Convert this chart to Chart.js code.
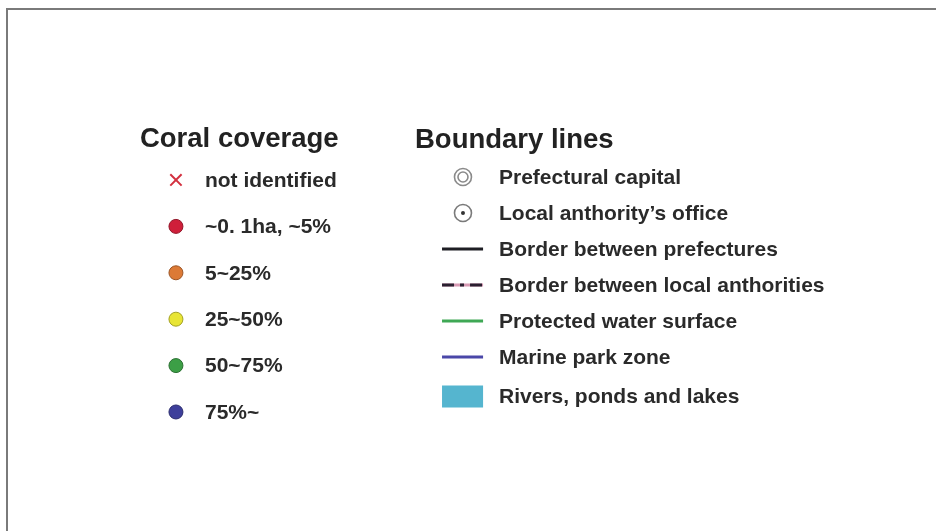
<!DOCTYPE html>
<html>
<head>
<meta charset="utf-8">
<script src="https://cdn.jsdelivr.net/npm/chart.js@4"></script>
<style>
  html, body { margin: 0; padding: 0; background: #fff; }
  canvas { display: block; }
</style>
</head>
<body>
<canvas id="legendChart" width="936" height="531"></canvas>
<script>
/* =========================
   LEGEND DATA
========================= */

const coralTitle = "Coral coverage";
const coralLabels = ["not identified", "~0. 1ha, ~5%", "5~25%", "25~50%", "50~75%", "75%~"];
const coralRows = [0, 1, 2, 3, 4, 5];
const coralColors = ["#d3303f", "#cf1f3a", "#dc7a36", "#e8e535", "#3c9f46", "#3e3f9b"];

const boundaryTitle = "Boundary lines";
const boundaryLabels = [
    "Prefectural capital",
    "Local anthority\u2019s office",
    "Border between prefectures",
    "Border between local anthorities",
    "Protected water surface",
    "Marine park zone",
    "Rivers, ponds and lakes"
];
const boundaryRows = [0, 1, 2, 3, 4, 5, 6.1];

// column index: 0 = coral coverage, 1 = boundary lines
const COL_CORAL = 0;
const COL_BOUNDARY = 1;


/* =========================
   HELPERS
========================= */

function darker(hex, f) {
    const n = parseInt(hex.slice(1), 16);
    const r = Math.round(((n >> 16) & 255) * f);
    const g = Math.round(((n >> 8) & 255) * f);
    const b = Math.round((n & 255) * f);
    return "rgb(" + r + "," + g + "," + b + ")";
}

function lineSet(row, color, width, dash) {
    return {
        type: "scatter",
        showLine: true,
        yAxisID: "yR",
        data: [{ x: COL_BOUNDARY - 0.073, y: row }, { x: COL_BOUNDARY + 0.07, y: row }],
        borderColor: color,
        borderWidth: width,
        borderDash: dash || [],
        pointRadius: 0,
        clip: false
    };
}


/* =========================
   DATASETS
========================= */

const datasets = [];

// not identified -> red cross
datasets.push({
    yAxisID: "yL",
    data: [{ x: COL_CORAL, y: coralRows[0] }],
    pointStyle: "crossRot",
    pointRadius: 8,
    borderColor: coralColors[0],
    borderWidth: 2,
    clip: false
});

// coverage classes -> filled dots
datasets.push({
    yAxisID: "yL",
    data: coralRows.slice(1).map(r => ({ x: COL_CORAL, y: r })),
    pointStyle: "circle",
    pointRadius: 7,
    backgroundColor: coralColors.slice(1),
    borderColor: coralColors.slice(1).map(c => darker(c, 0.7)),
    borderWidth: 1,
    clip: false
});

// prefectural capital -> double circle
[8.5, 5].forEach(rad => {
    datasets.push({
        yAxisID: "yR",
        data: [{ x: COL_BOUNDARY, y: boundaryRows[0] }],
        pointStyle: "circle",
        pointRadius: rad,
        backgroundColor: "rgba(0,0,0,0)",
        borderColor: "#8a8a8a",
        borderWidth: 1.6,
        clip: false
    });
});

// local authority office -> circle with dot
datasets.push({
    yAxisID: "yR",
    data: [{ x: COL_BOUNDARY, y: boundaryRows[1] }],
    pointStyle: "circle",
    pointRadius: 2,
    backgroundColor: "#333",
    borderColor: "#333",
    borderWidth: 0,
    clip: false
});
datasets.push({
    yAxisID: "yR",
    data: [{ x: COL_BOUNDARY, y: boundaryRows[1] }],
    pointStyle: "circle",
    pointRadius: 8.5,
    backgroundColor: "rgba(0,0,0,0)",
    borderColor: "#7a7a7a",
    borderWidth: 1.6,
    clip: false
});

// line symbols (earlier datasets are drawn on top)
datasets.push(lineSet(boundaryRows[2], "#1e1e24", 3));
datasets.push(lineSet(boundaryRows[3], "#2a2030", 3, [12, 6, 4, 6]));
datasets.push(lineSet(boundaryRows[3], "#d89ab4", 3));
datasets.push(lineSet(boundaryRows[4], "#3fa855", 3));
datasets.push(lineSet(boundaryRows[5], "#4a47a8", 3));
datasets.push(lineSet(boundaryRows[6], "#55b5cf", 22));


/* =========================
   TEXT + FRAME PLUGIN
========================= */

const legendText = {
    id: "legendText",
    beforeDraw(chart) {
        const c = chart.ctx;
        c.save();
        c.strokeStyle = "#7a7a7a";
        c.lineWidth = 2;
        c.beginPath();
        c.moveTo(7, chart.height);
        c.lineTo(7, 9);
        c.lineTo(chart.width, 9);
        c.stroke();
        c.restore();
    },
    afterDatasetsDraw(chart) {
        const c = chart.ctx;
        const x = chart.scales.x;
        const yL = chart.scales.yL;
        const yR = chart.scales.yR;
        c.save();
        c.textBaseline = "middle";
        c.textAlign = "left";

        c.fillStyle = "#222";
        c.font = "bold 27.5px 'Liberation Sans', Arial, sans-serif";
        c.fillText(coralTitle, x.getPixelForValue(COL_CORAL) - 36, yL.getPixelForValue(-0.87));
        c.fillText(boundaryTitle, x.getPixelForValue(COL_BOUNDARY) - 48, yR.getPixelForValue(-1.03));

        c.fillStyle = "#2a2a2a";
        c.font = "bold 21px 'Liberation Sans', Arial, sans-serif";
        coralLabels.forEach((t, i) => {
            c.fillText(t, x.getPixelForValue(COL_CORAL) + 29, yL.getPixelForValue(coralRows[i]) + 1);
        });
        boundaryLabels.forEach((t, i) => {
            c.fillText(t, x.getPixelForValue(COL_BOUNDARY) + 36, yR.getPixelForValue(boundaryRows[i]) + 1);
        });
        c.restore();
    }
};


/* =========================
   CHART
========================= */

new Chart(document.getElementById("legendChart"), {
    type: "scatter",
    data: { datasets: datasets },
    options: {
        responsive: false,
        animation: false,
        devicePixelRatio: 1,
        layout: { padding: 0, autoPadding: false },
        plugins: {
            legend: { display: false },
            tooltip: { enabled: false }
        },
        scales: {
            x: { type: "linear", display: false, min: -0.613, max: 2.648 },
            yL: { type: "linear", display: false, reverse: true, min: -3.879, max: 7.565 },
            yR: { type: "linear", display: false, reverse: true, min: -4.917, max: 9.833 }
        }
    },
    plugins: [legendText]
});
</script>
</body>
</html>
